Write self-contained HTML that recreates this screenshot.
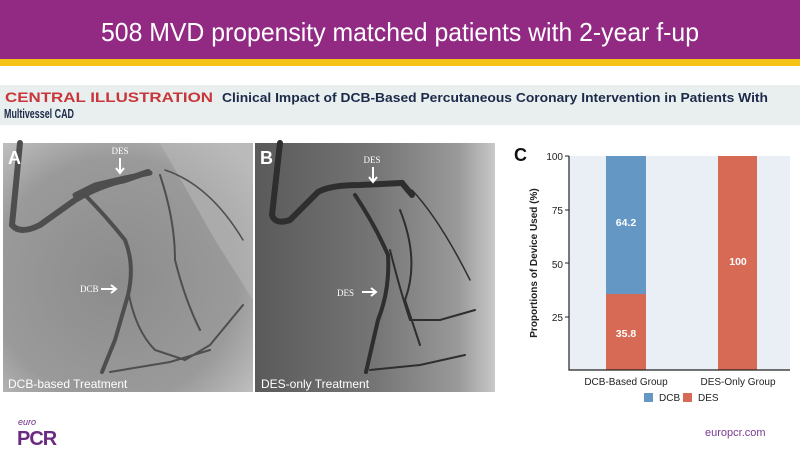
<!DOCTYPE html>
<html><head><meta charset="utf-8"><style>
body{margin:0;width:800px;height:450px;overflow:hidden;background:#fff;font-family:"Liberation Sans",sans-serif}
</style></head><body>
<svg width="800" height="450" viewBox="0 0 800 450" xmlns="http://www.w3.org/2000/svg">
<defs>
<radialGradient id="ga" cx="0.45" cy="0.55" r="0.7"><stop offset="0" stop-color="#8c8c8c"/><stop offset="0.7" stop-color="#9a9a9a"/><stop offset="1" stop-color="#bdbdbd"/></radialGradient>
<linearGradient id="gb" x1="0" y1="0" x2="1" y2="0"><stop offset="0" stop-color="#5a5a5a"/><stop offset="0.5" stop-color="#757575"/><stop offset="0.85" stop-color="#9a9a9a"/><stop offset="1" stop-color="#c8c8c8"/></linearGradient>
</defs>
<rect x="0" y="0" width="800" height="59" fill="#922a84"/>
<rect x="0" y="59" width="800" height="7" fill="#f4c315"/>
<text x="101" y="41" textLength="598" lengthAdjust="spacingAndGlyphs" font-family="Liberation Sans" font-size="26" fill="#fff">508 MVD propensity matched patients with 2-year f-up</text>
<rect x="0" y="85" width="800" height="40" fill="#e9eeee"/>
<text x="5" y="102" textLength="208" lengthAdjust="spacingAndGlyphs" font-size="14" font-weight="bold" fill="#c8363a">CENTRAL ILLUSTRATION</text>
<text x="222" y="102" textLength="546" lengthAdjust="spacingAndGlyphs" font-size="12.5" font-weight="bold" fill="#1c2a4a">Clinical Impact of DCB-Based Percutaneous Coronary Intervention in Patients With</text>
<text x="4" y="118" textLength="70" lengthAdjust="spacingAndGlyphs" font-size="12.5" font-weight="bold" fill="#1c2a4a">Multivessel CAD</text>
<!-- Panel A -->
<rect x="3" y="143" width="250" height="249" fill="url(#ga)"/>
<polygon points="160,143 253,143 253,300 215,240" fill="#b8b8b8" opacity="0.6"/>
<g fill="none" stroke="#4e4e4e" stroke-linecap="round">
<path d="M20,143 L12,225 Q20,235 40,225 L75,200 Q100,185 125,180 L148,172" stroke-width="6"/>
<path d="M75,195 L95,185 L125,178 L150,173" stroke-width="5"/>
<path d="M85,195 Q105,215 125,240 Q135,265 128,295 L115,340 L102,372" stroke-width="4"/>
<path d="M128,290 Q135,330 155,350 L185,360 L210,345 L243,305" stroke-width="2"/>
<path d="M160,175 Q175,220 175,260 Q185,300 200,330" stroke-width="2"/>
<path d="M110,372 L170,362 L210,350" stroke-width="2"/>
<path d="M165,170 Q210,185 243,240" stroke-width="1.5"/>
</g>
<text x="120" y="154" font-family="Liberation Serif" font-size="9" fill="#fff" text-anchor="middle">DES</text>
<path d="M120,158 V172 M116,168 L120,173 L124,168" stroke="#fff" stroke-width="2" fill="none"/>
<text x="80" y="292" font-family="Liberation Serif" font-size="9" fill="#fff">DCB</text>
<path d="M101,289 H115 M111,285 L116,289 L111,293" stroke="#fff" stroke-width="2" fill="none"/>
<text x="8" y="164" font-size="18" font-weight="bold" fill="#fff">A</text>
<text x="8" y="388" font-size="12" fill="#fff">DCB-based Treatment</text>
<!-- Panel B -->
<rect x="255" y="143" width="240" height="249" fill="url(#gb)"/>
<g fill="none" stroke="#2e2e2e" stroke-linecap="round">
<path d="M280,143 L272,215 Q275,225 290,220 L318,192 Q330,185 360,185 L402,183 L412,195" stroke-width="6"/>
<path d="M355,195 Q375,225 388,255 Q390,290 378,320 L366,372" stroke-width="4"/>
<path d="M390,250 Q400,290 410,320 L440,320 L475,310" stroke-width="2"/>
<path d="M400,210 Q420,260 405,300 Q415,330 420,345" stroke-width="2"/>
<path d="M370,370 L420,365 L465,355" stroke-width="2"/>
<path d="M412,190 Q440,220 470,280" stroke-width="1.5"/>
</g>
<text x="372" y="163" font-family="Liberation Serif" font-size="9" fill="#fff" text-anchor="middle">DES</text>
<path d="M373,167 V181 M369,177 L373,182 L377,177" stroke="#fff" stroke-width="2" fill="none"/>
<text x="337" y="296" font-family="Liberation Serif" font-size="9" fill="#fff">DES</text>
<path d="M362,292 H375 M371,288 L376,292 L371,296" stroke="#fff" stroke-width="2" fill="none"/>
<text x="260" y="164" font-size="18" font-weight="bold" fill="#fff">B</text>
<text x="261" y="388" font-size="12" fill="#fff">DES-only Treatment</text>
<!-- Chart C -->
<text x="514" y="161" font-size="18" font-weight="bold" fill="#111">C</text>
<rect x="569" y="156" width="221" height="214" fill="#e9eff4"/>
<rect x="606" y="156" width="40" height="138" fill="#6497c4"/>
<rect x="606" y="294" width="40" height="76" fill="#d76a55"/>
<rect x="718" y="156" width="39" height="214" fill="#d76a55"/>
<path d="M569,156 V370 H790" stroke="#222" stroke-width="1.2" fill="none"/>
<g font-size="10" fill="#222" text-anchor="end">
<text x="563" y="160">100</text><text x="563" y="214">75</text><text x="563" y="268">50</text><text x="563" y="321">25</text>
</g>
<path d="M565,156H569M565,210H569M565,263H569M565,317H569" stroke="#222"/>
<g font-size="10.5" font-weight="bold" fill="#fff" text-anchor="middle">
<text x="626" y="226">64.2</text><text x="626" y="337">35.8</text><text x="738" y="265">100</text>
</g>
<text transform="translate(537,263) rotate(-90)" font-size="10" font-weight="bold" fill="#222" text-anchor="middle">Proportions of Device Used (%)</text>
<g font-size="10" fill="#222" text-anchor="middle">
<text x="626" y="385">DCB-Based Group</text><text x="738" y="385">DES-Only Group</text>
</g>
<rect x="644" y="393" width="9" height="9" fill="#6497c4"/>
<text x="659" y="401" font-size="10" fill="#222">DCB</text>
<rect x="683" y="393" width="9" height="9" fill="#d76a55"/>
<text x="698" y="401" font-size="10" fill="#222">DES</text>
<!-- footer -->
<text x="18" y="425" font-size="9" font-style="italic" fill="#6a2a80">euro</text>
<text x="17" y="445" font-size="20" font-weight="bold" fill="#6a2a80" letter-spacing="-1">PCR</text>
<text x="705" y="436" font-size="11" fill="#7a3a90">europcr.com</text>
</svg>
</body></html>
